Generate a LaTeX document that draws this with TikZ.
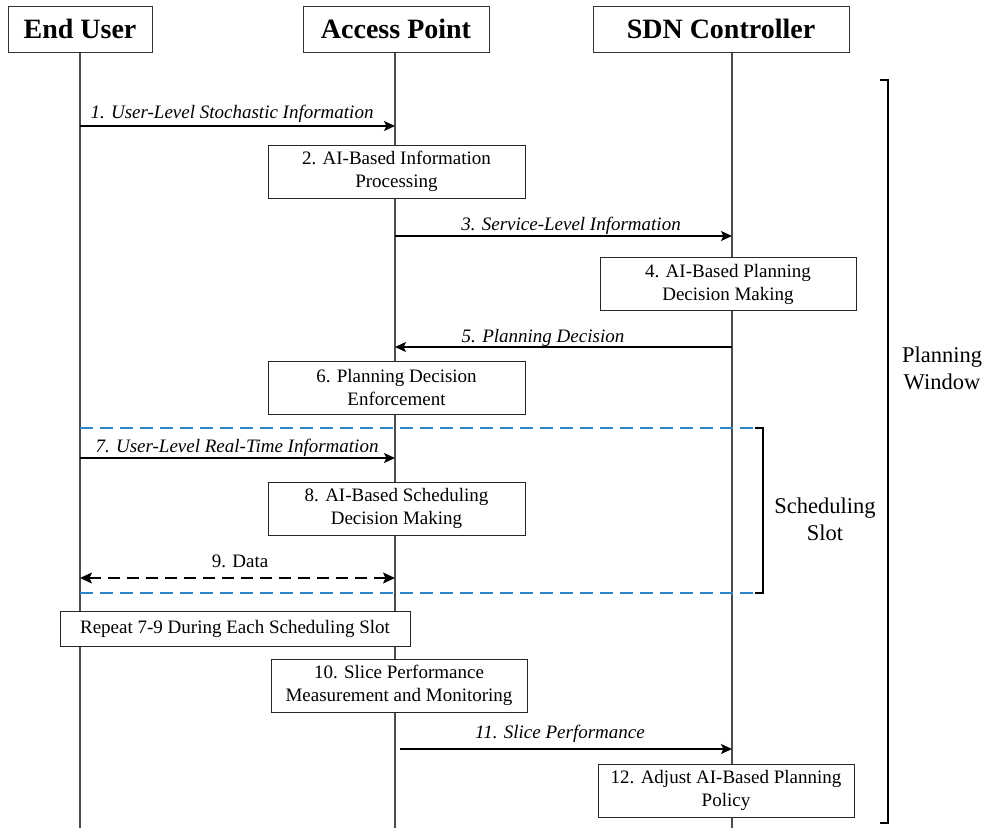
\documentclass[tikz,border=0pt]{standalone}
\usepackage{fontspec}
\setmainfont{Liberation Serif}
\usetikzlibrary{arrows.meta}
\definecolor{slotblue}{HTML}{2E86C9}
\begin{document}
\begin{tikzpicture}[x=1pt,y=-1pt,
 hdr/.style={draw=black!80, line width=1pt, fill=white, minimum height=46pt, inner sep=0pt, font=\fontsize{28}{32}\selectfont\bfseries},
 stepbox/.style={draw=black!85, line width=0.9pt, fill=white, minimum width=256pt, minimum height=53pt, inner sep=0pt, align=center, font=\fontsize{19}{23}\selectfont},
 tip/.style={},
 msg/.style={line width=1.3pt, -{Stealth[length=11pt,width=10pt,inset=2.5pt]}},
 lbl/.style={font=\fontsize{19}{23}\selectfont\itshape, anchor=base, inner sep=0pt},
 life/.style={draw=black!70, line width=1.3pt},
 slotline/.style={draw=slotblue, line width=1.6pt, dash pattern=on 13pt off 7pt},
 brk/.style={line width=2.5pt},
 sidelbl/.style={align=center, font=\fontsize{22.5}{27}\selectfont, inner sep=0pt}
]
\useasboundingbox (0,0) rectangle (985,828);
% lifelines
\coordinate (euT) at (80,52);  \coordinate (euB) at (80,828);
\coordinate (apT) at (395,52); \coordinate (apB) at (395,828);
\coordinate (scT) at (732,52); \coordinate (scB) at (732,828);
\draw[life] (euT) -- (euB);
\draw[life] (apT) -- (apB);
\draw[life] (scT) -- (scB);
% headers
\node[hdr, minimum width=144pt] (eu) at (80,29) {End User};
\node[hdr, minimum width=186pt] (ap) at (396,29) {Access Point};
\node[hdr, minimum width=256pt] (sc) at (721,29) {SDN Controller};
% message 1
\coordinate (m1s) at (80,126); \coordinate (m1e) at (395,126);
\draw[msg] (m1s) -- (m1e);
\node[lbl] (l1) at (232,118) {1. User-Level Stochastic Information};
% step 2
\node[stepbox, minimum width=257pt] (s2) at (396.5,171.5) {2. AI-Based Information\\Processing};
% message 3
\coordinate (m3s) at (395,236); \coordinate (m3e) at (732,236);
\draw[msg] (m3s) -- (m3e);
\node[lbl] (l3) at (571,230) {3. Service-Level Information};
% step 4
\node[stepbox] (s4) at (728,284) {4. AI-Based Planning\\Decision Making};
% message 5
\coordinate (m5s) at (732,347); \coordinate (m5e) at (395,347);
\draw[msg] (m5s) -- (m5e);
\node[lbl] (l5) at (543,342) {5. Planning Decision};
% step 6
\node[stepbox, minimum width=257pt] (s6) at (396.5,387.5) {6. Planning Decision\\Enforcement};
% scheduling slot
\coordinate (st1) at (80,428); \coordinate (st2) at (763,428);
\coordinate (sb1) at (80,593); \coordinate (sb2) at (763,593);
\draw[slotline] (st1) -- (st2);
\draw[slotline] (sb1) -- (sb2);
\draw[brk] ([xshift=-8pt]st2) -- (st2) -- (sb2) -- ([xshift=-8pt]sb2);
\node[sidelbl] (slot) at (825,519) {Scheduling\\Slot};
% message 7
\coordinate (m7s) at (80,458); \coordinate (m7e) at (395,458);
\draw[msg] (m7s) -- (m7e);
\node[lbl] (l7) at (237,452) {7. User-Level Real-Time Information};
% step 8
\node[stepbox, minimum width=257pt] (s8) at (396.5,508.5) {8. AI-Based Scheduling\\Decision Making};
% message 9
\coordinate (m9s) at (80,578); \coordinate (m9e) at (395,578);
\draw[line width=1.3pt, dash pattern=on 12pt off 7pt, {Stealth[length=12pt,width=11pt,inset=2.5pt]}-{Stealth[length=12pt,width=11pt,inset=2.5pt]}] (m9s) -- (m9e);
\node[lbl, font=\fontsize{19}{23}\selectfont] (l9) at (240,567) {9. Data};
% repeat
\node[stepbox, minimum width=350pt, minimum height=35pt] (rep) at (235,628.5) {Repeat 7-9 During Each Scheduling Slot};
% step 10
\node[stepbox] (s10) at (399,685.5) {10. Slice Performance\\Measurement and Monitoring};
% message 11
\coordinate (m11s) at (400,749); \coordinate (m11e) at (732,749);
\draw[msg] (m11s) -- (m11e);
\node[lbl] (l11) at (560,738) {11. Slice Performance};
% step 12
\node[stepbox] (s12) at (726,790.5) {12. Adjust AI-Based Planning\\Policy};
% planning window
\coordinate (pwT) at (888,80); \coordinate (pwB) at (888,823);
\draw[brk] ([xshift=-8pt]pwT) -- (pwT) -- (pwB) -- ([xshift=-8pt]pwB);
\node[sidelbl] (pw) at (942,368) {Planning\\Window};
\end{tikzpicture}
\end{document}
